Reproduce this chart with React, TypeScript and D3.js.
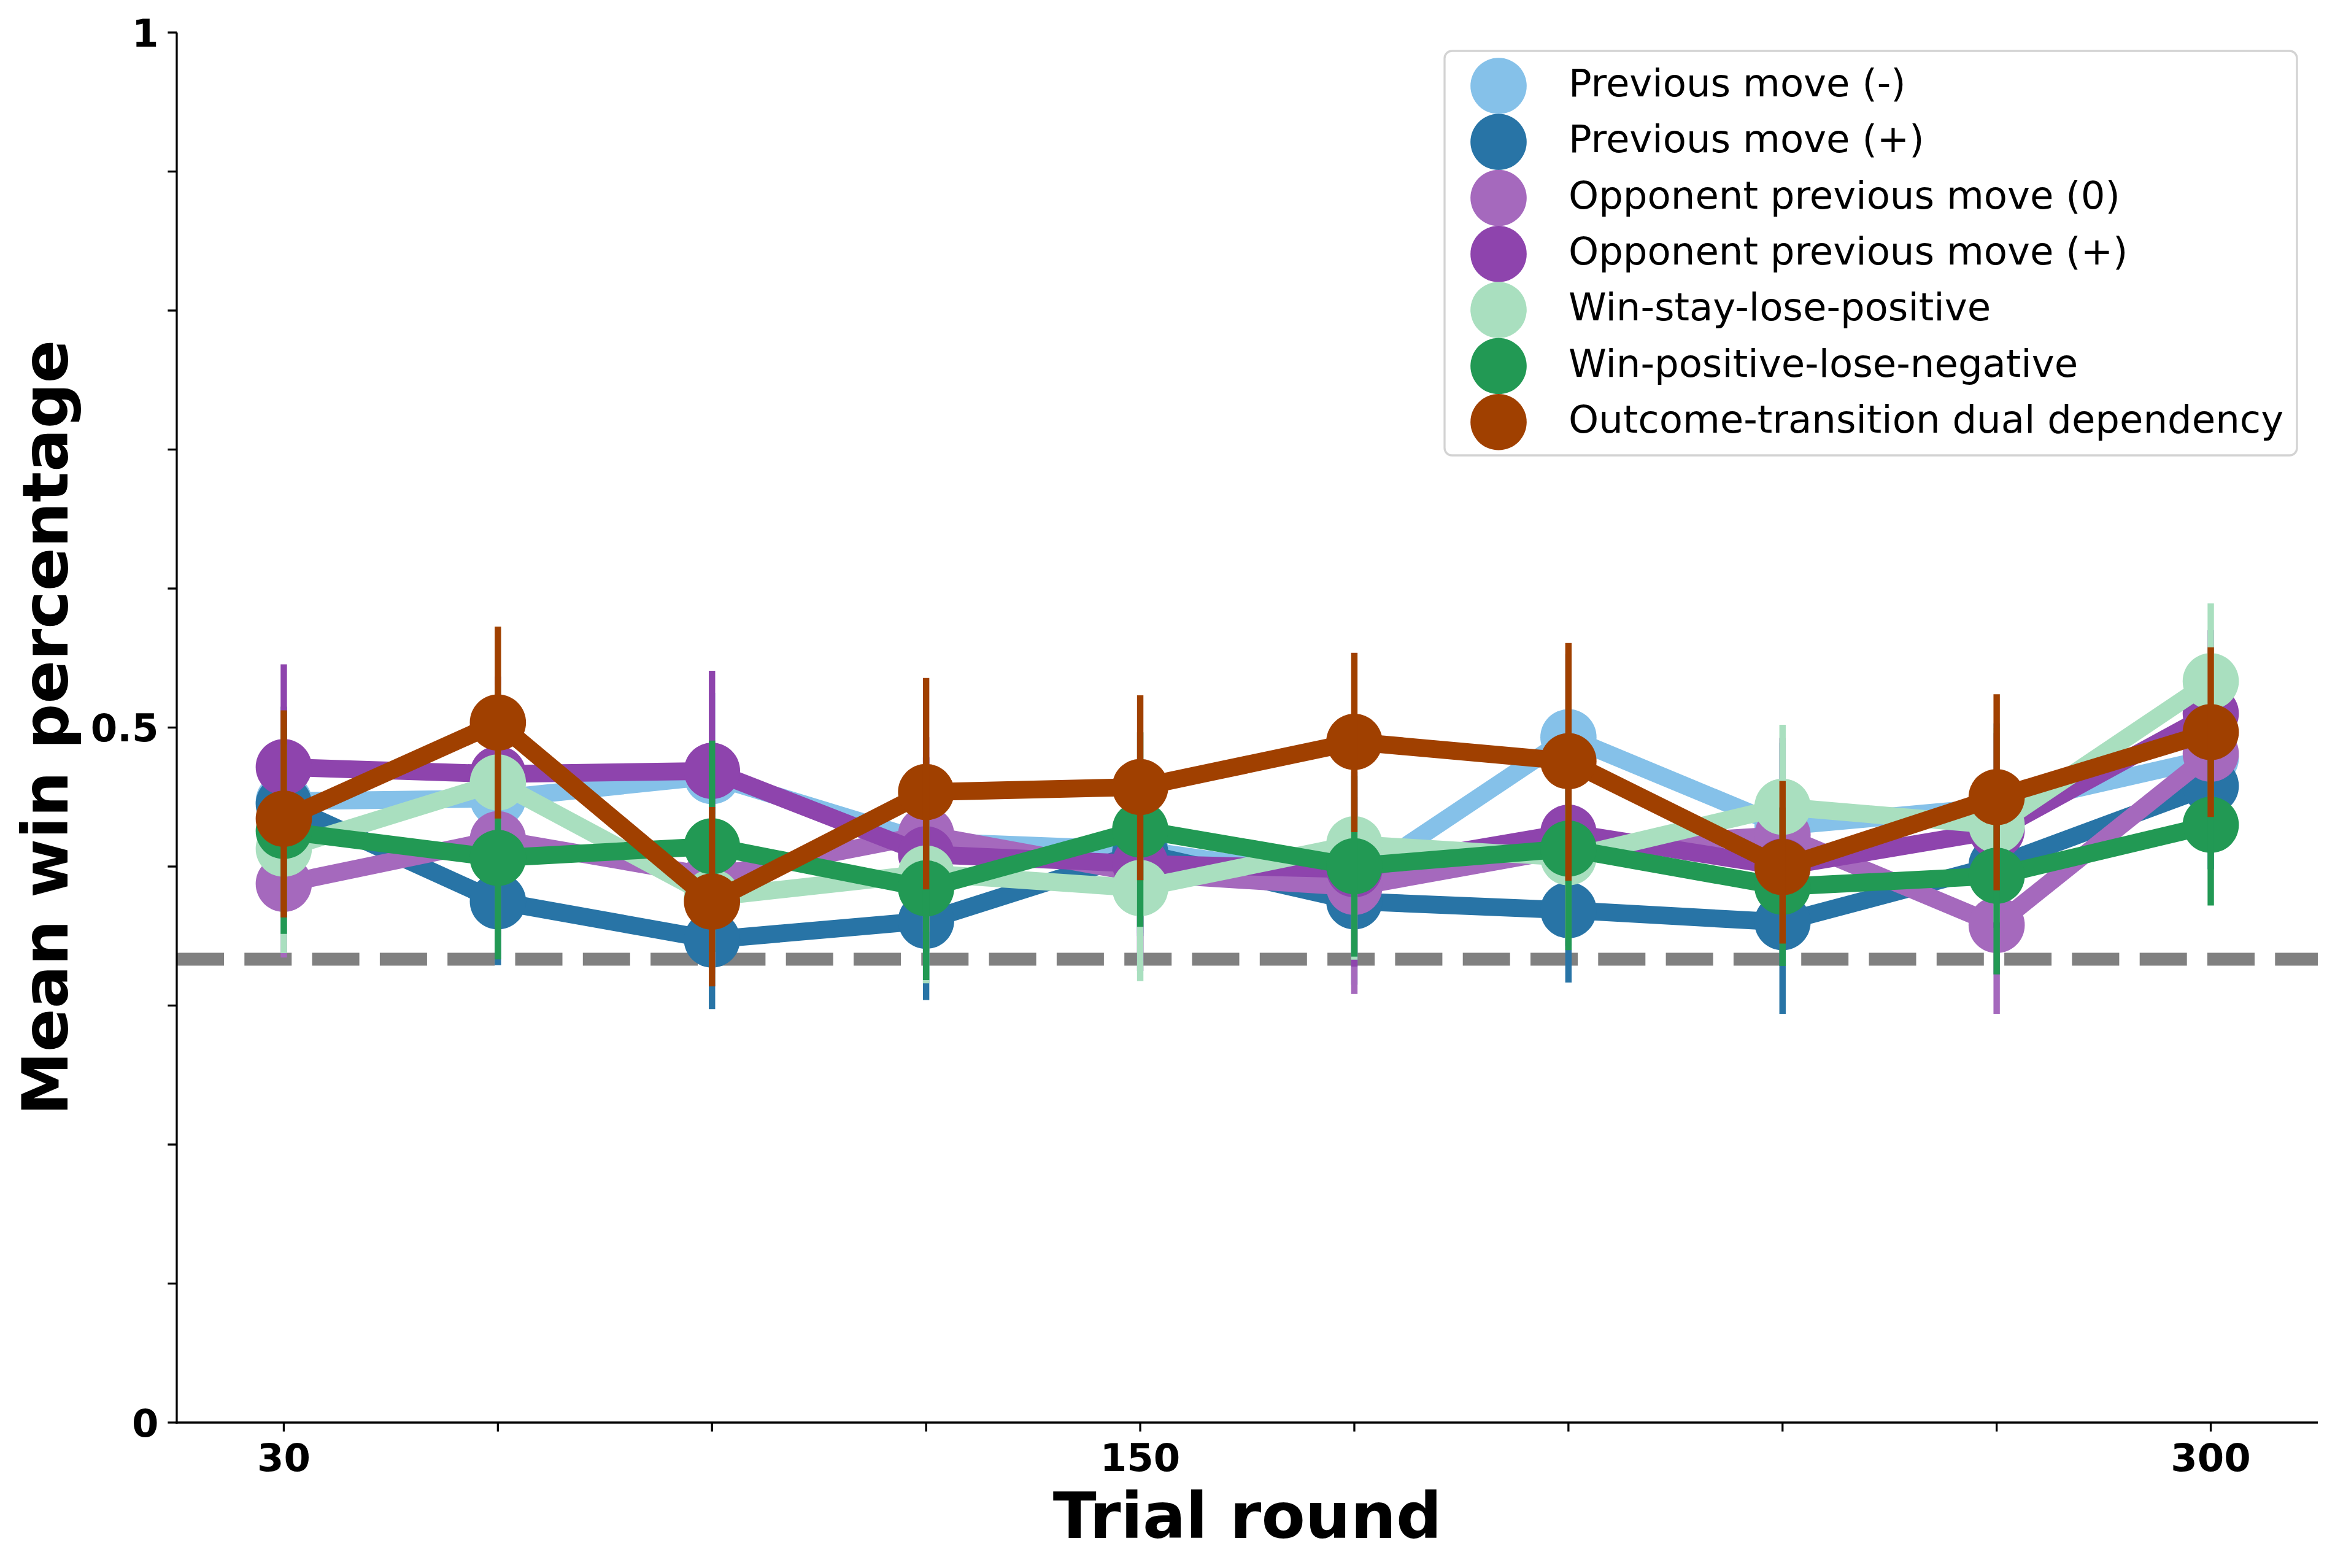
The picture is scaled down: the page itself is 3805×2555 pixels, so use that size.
import React from 'react';
import * as d3 from 'd3';

// ---------- data ----------
const trialRounds = [30, 60, 90, 120, 150, 180, 210, 240, 270, 300];
const xTickValues = [30, 60, 90, 120, 150, 180, 210, 240, 270, 300];
const xTickLabels = ['30', '', '', '', '150', '', '', '', '', '300'];
const yTickValues = [0, 0.1, 0.2, 0.3, 0.4, 0.5, 0.6, 0.7, 0.8, 0.9, 1];
const yTickLabels = ['0', '', '', '', '', '0.5', '', '', '', '', '1'];
const chanceLevel = 1 / 3;

const seriesNames = [
  'Previous move (-)',
  'Previous move (+)',
  'Opponent previous move (0)',
  'Opponent previous move (+)',
  'Win-stay-lose-positive',
  'Win-positive-lose-negative',
  'Outcome-transition dual dependency',
];
const seriesColors = ['#85C1E9', '#2874A6', '#A569BD', '#8E44AD', '#A9DFBF', '#229954', '#A04000'];

const prevMoveNeg = [0.447, 0.449, 0.465, 0.418, 0.412, 0.39, 0.493, 0.429, 0.443, 0.478];
const prevMovePos = [0.445, 0.375, 0.3475, 0.361, 0.41, 0.375, 0.3686, 0.36, 0.401, 0.458];
const oppPrevZero = [0.3876, 0.4196, 0.393, 0.423, 0.395, 0.3853, 0.413, 0.4225, 0.358, 0.4812];
const oppPrevPos = [0.4715, 0.4666, 0.4688, 0.4088, 0.402, 0.398, 0.4244, 0.4, 0.426, 0.51];
const winStayLosePos = [0.4128, 0.4605, 0.378, 0.395, 0.3845, 0.416, 0.4066, 0.443, 0.4298, 0.5333];
const winPosLoseNeg = [0.4256, 0.4062, 0.4146, 0.3843, 0.4266, 0.4002, 0.4129, 0.3855, 0.3934, 0.43];
const outcomeTransition = [0.4344, 0.5036, 0.3748, 0.4536, 0.4572, 0.4897, 0.4758, 0.3996, 0.4499, 0.4967];

// error bars (lower, upper distances)
const prevMoveNegErrLo = [0.06, 0.06, 0.06, 0.06, 0.06, 0.06, 0.06, 0.06, 0.06, 0.06];
const prevMoveNegErrHi = [0.06, 0.06, 0.06, 0.06, 0.06, 0.06, 0.06, 0.06, 0.06, 0.06];
const prevMovePosErrLo = [0.07, 0.046, 0.05, 0.057, 0.06, 0.06, 0.052, 0.066, 0.06, 0.06];
const prevMovePosErrHi = [0.07, 0.046, 0.05, 0.057, 0.06, 0.06, 0.052, 0.066, 0.06, 0.06];
const oppPrevZeroErrLo = [0.053, 0.07, 0.07, 0.07, 0.07, 0.077, 0.07, 0.07, 0.064, 0.06];
const oppPrevZeroErrHi = [0.053, 0.07, 0.07, 0.07, 0.07, 0.077, 0.07, 0.07, 0.064, 0.06];
const oppPrevPosErrLo = [0.074, 0.07, 0.072, 0.07, 0.07, 0.07, 0.07, 0.06, 0.07, 0.06];
const oppPrevPosErrHi = [0.074, 0.07, 0.072, 0.07, 0.07, 0.07, 0.07, 0.06, 0.07, 0.06];
const winStayLosePosErrLo = [0.075, 0.07, 0.06, 0.079, 0.067, 0.083, 0.06, 0.059, 0.07, 0.056];
const winStayLosePosErrHi = [0.075, 0.07, 0.06, 0.079, 0.067, 0.083, 0.06, 0.059, 0.07, 0.056];
const winPosLoseNegErrLo = [0.074, 0.073, 0.076, 0.066, 0.07, 0.065, 0.073, 0.057, 0.071, 0.058];
const winPosLoseNegErrHi = [0.074, 0.073, 0.076, 0.066, 0.07, 0.065, 0.073, 0.057, 0.071, 0.058];
const outcomeTransitionErrLo = [0.071, 0.069, 0.061, 0.07, 0.067, 0.065, 0.086, 0.055, 0.067, 0.061];
const outcomeTransitionErrHi = [0.078, 0.069, 0.068, 0.082, 0.066, 0.064, 0.085, 0.062, 0.074, 0.061];

const seriesValues = [prevMoveNeg, prevMovePos, oppPrevZero, oppPrevPos, winStayLosePos, winPosLoseNeg, outcomeTransition];
const seriesErrLo = [prevMoveNegErrLo, prevMovePosErrLo, oppPrevZeroErrLo, oppPrevPosErrLo, winStayLosePosErrLo, winPosLoseNegErrLo, outcomeTransitionErrLo];
const seriesErrHi = [prevMoveNegErrHi, prevMovePosErrHi, oppPrevZeroErrHi, oppPrevPosErrHi, winStayLosePosErrHi, winPosLoseNegErrHi, outcomeTransitionErrHi];

// ---------- layout ----------
const W = 3805;
const H = 2555;
const plotLeft = 288;
const plotRight = 3777;
const plotTop = 53;
const plotBottom = 2318;
const FONT = '"DejaVu Sans", sans-serif';

export default function App() {
  const x = d3.scaleLinear().domain([15, 315]).range([plotLeft, plotRight]);
  const y = d3.scaleLinear().domain([0, 1]).range([plotBottom, plotTop]);
  const line = d3
    .line<number>()
    .x((_, i) => x(trialRounds[i]))
    .y((d) => y(d));

  const tickLen = 14.6;
  const spineW = 3.3;
  const markerR = 45.8;
  const lineW = 29;
  const errW = 10.4;

  const legendX = 2354;
  const legendY = 83;
  const legendW = 1389;
  const legendH = 659;
  const legendRow0 = 140;
  const legendStep = 91.3;

  return (
    <svg
      width={W}
      height={H}
      viewBox={`0 0 ${W} ${H}`}
      style={{ position: 'absolute', left: 0, top: 0, background: '#fff' }}
      fontFamily={FONT}
    >
      <rect x={0} y={0} width={W} height={H} fill="#fff" />

      {/* chance line */}
      <line
        x1={plotLeft}
        x2={plotRight}
        y1={y(chanceLevel)}
        y2={y(chanceLevel)}
        stroke="#808080"
        strokeWidth={20.8}
        strokeDasharray="77 33.3"
      />

      {/* series */}
      {seriesValues.map((vals, s) => (
        <g key={seriesNames[s]}>
          <path
            d={line(vals) || ''}
            fill="none"
            stroke={seriesColors[s]}
            strokeWidth={lineW}
            strokeLinejoin="round"
            strokeLinecap="butt"
          />
          {vals.map((v, i) => (
            <circle key={i} cx={x(trialRounds[i])} cy={y(v)} r={markerR} fill={seriesColors[s]} />
          ))}
          {vals.map((v, i) => (
            <line
              key={'e' + i}
              x1={x(trialRounds[i])}
              x2={x(trialRounds[i])}
              y1={y(v - seriesErrLo[s][i])}
              y2={y(v + seriesErrHi[s][i])}
              stroke={seriesColors[s]}
              strokeWidth={errW}
              strokeLinecap="butt"
            />
          ))}
        </g>
      ))}

      {/* spines */}
      <line x1={plotLeft} x2={plotLeft} y1={plotTop} y2={plotBottom + spineW / 2} stroke="#000" strokeWidth={spineW} />
      <line x1={plotLeft - spineW / 2} x2={plotRight} y1={plotBottom} y2={plotBottom} stroke="#000" strokeWidth={spineW} />

      {/* y ticks */}
      {yTickValues.map((t, i) => (
        <g key={'yt' + i}>
          <line x1={plotLeft - tickLen} x2={plotLeft} y1={y(t)} y2={y(t)} stroke="#000" strokeWidth={spineW} />
          {yTickLabels[i] && (
            <text
              x={plotLeft - tickLen - 15}
              y={y(t)}
              dy="0.36em"
              textAnchor="end"
              fontSize={62.5}
              fontWeight="bold"
            >
              {yTickLabels[i]}
            </text>
          )}
        </g>
      ))}

      {/* x ticks */}
      {xTickValues.map((t, i) => (
        <g key={'xt' + i}>
          <line x1={x(t)} x2={x(t)} y1={plotBottom} y2={plotBottom + tickLen} stroke="#000" strokeWidth={spineW} />
          {xTickLabels[i] && (
            <text x={x(t)} y={2397} textAnchor="middle" fontSize={62.5} fontWeight="bold">
              {xTickLabels[i]}
            </text>
          )}
        </g>
      ))}

      {/* axis labels */}
      <text x={(plotLeft + plotRight) / 2} y={2506} textAnchor="middle" fontSize={104} fontWeight="bold">
        Trial round
      </text>
      <text
        transform={`translate(110, ${(plotTop + plotBottom) / 2}) rotate(-90)`}
        textAnchor="middle"
        fontSize={104}
        fontWeight="bold"
      >
        Mean win percentage
      </text>

      {/* legend */}
      <rect
        x={legendX}
        y={legendY}
        width={legendW}
        height={legendH}
        rx={12}
        ry={12}
        fill="#fff"
        fillOpacity={0.8}
        stroke="#d3d3d3"
        strokeWidth={3.3}
      />
      {seriesNames.map((name, i) => (
        <g key={'lg' + i}>
          <circle cx={2442} cy={legendRow0 + i * legendStep} r={markerR} fill={seriesColors[i]} />
          <text x={2556} y={legendRow0 + i * legendStep + 17} fontSize={62.5}>
            {name}
          </text>
        </g>
      ))}
    </svg>
  );
}
